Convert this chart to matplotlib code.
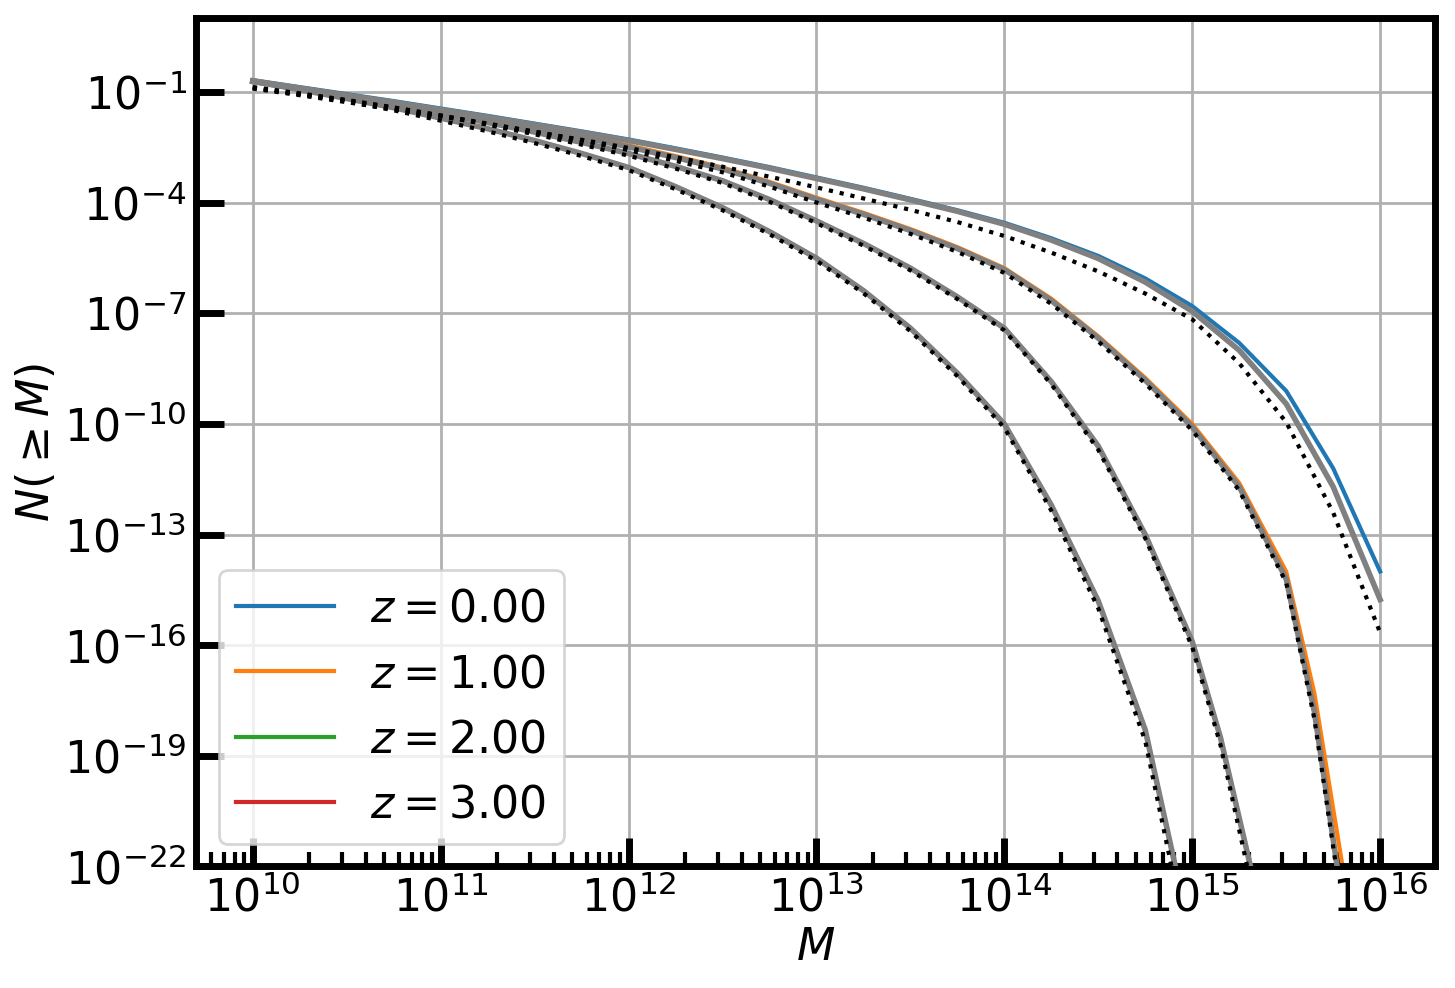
import numpy as np
import matplotlib.pyplot as plt

logm0 = [10, 10.25, 10.5, 10.75, 11, 11.25, 11.5, 11.75, 12, 12.25, 12.5, 12.75, 13,
         13.25, 13.5, 13.75, 14, 14.25, 14.5, 14.75, 15, 15.25, 15.5, 15.75, 16]
z0_col = [-0.67, -0.86, -1.05, -1.24, -1.44, -1.64, -1.85, -2.06, -2.28, -2.52, -2.77, -3.03, -3.31,
          -3.59, -3.89, -4.20, -4.54, -4.96, -5.44, -6.05, -6.80, -7.80, -9.10, -11.2, -14.0]
z0_grey = [-0.70, -0.89, -1.08, -1.27, -1.47, -1.67, -1.88, -2.09, -2.31, -2.55, -2.80, -3.06, -3.34,
           -3.62, -3.92, -4.23, -4.58, -5.01, -5.51, -6.15, -6.94, -8.00, -9.45, -11.7, -14.76]
z0_dot = [-0.90, -1.08, -1.27, -1.46, -1.66, -1.86, -2.07, -2.29, -2.51, -2.76, -3.02, -3.29, -3.58,
          -3.88, -4.19, -4.52, -4.90, -5.35, -5.86, -6.46, -7.16, -8.35, -9.95, -12.4, -15.66]

logm1 = [10, 10.25, 10.5, 10.75, 11, 11.25, 11.5, 11.75, 12, 12.25, 12.5, 12.75, 13,
         13.25, 13.5, 13.75, 14, 14.25, 14.5, 14.75, 15, 15.25, 15.5, 15.65, 15.8]
z1_col = [-0.68, -0.88, -1.08, -1.28, -1.50, -1.72, -1.94, -2.18, -2.44, -2.73, -3.04, -3.43, -3.86,
          -4.27, -4.71, -5.20, -5.77, -6.60, -7.62, -8.75, -10.0, -11.6, -14.0, -17.3, -22.0]
z1_grey = [-0.71, -0.91, -1.11, -1.32, -1.54, -1.76, -1.98, -2.22, -2.48, -2.77, -3.08, -3.47, -3.90,
           -4.31, -4.75, -5.24, -5.81, -6.65, -7.67, -8.81, -10.08, -11.7, -14.2, -17.8, -23.0]
z1_dot = [-0.88, -1.04, -1.22, -1.42, -1.63, -1.85, -2.07, -2.31, -2.57, -2.86, -3.17, -3.56, -3.99,
          -4.40, -4.84, -5.33, -5.90, -6.74, -7.76, -8.90, -10.17, -11.8, -14.3, -18.0, -23.2]

logm2 = [10, 10.25, 10.5, 10.75, 11, 11.25, 11.5, 11.75, 12, 12.25, 12.5, 12.75, 13,
         13.25, 13.5, 13.75, 14, 14.25, 14.5, 14.75, 15, 15.15, 15.31]
z2_col = [-0.69, -0.90, -1.11, -1.33, -1.57, -1.82, -2.08, -2.36, -2.66, -3.01, -3.40, -3.91, -4.49,
          -5.10, -5.77, -6.55, -7.40, -8.85, -10.6, -13.0, -15.9, -18.5, -22.0]
z2_dot = [-0.86, -1.03, -1.21, -1.41, -1.63, -1.88, -2.14, -2.42, -2.72, -3.07, -3.46, -3.97, -4.55,
          -5.16, -5.83, -6.61, -7.46, -8.92, -10.7, -13.1, -16.05, -18.7, -22.4]

logm3 = [10, 10.25, 10.5, 10.75, 11, 11.25, 11.5, 11.75, 12, 12.25, 12.5, 12.75, 13,
         13.25, 13.5, 13.75, 14, 14.25, 14.5, 14.75, 14.91]
z3_col = [-0.70, -0.93, -1.17, -1.42, -1.70, -1.99, -2.31, -2.66, -3.04, -3.56, -4.13, -4.78, -5.50,
          -6.38, -7.40, -8.62, -10.0, -12.2, -14.8, -18.3, -22.0]
z3_dot = [-0.87, -1.06, -1.25, -1.49, -1.77, -2.06, -2.38, -2.73, -3.11, -3.63, -4.20, -4.85, -5.57,
          -6.45, -7.48, -8.70, -10.1, -12.35, -15.0, -18.6, -22.5]

labels = ['$z = 0.00$', '$z = 1.00$', '$z = 2.00$', '$z = 3.00$']
colors = ['#1f77b4', '#ff7f0e', '#2ca02c', '#d62728']

plt.rcParams['mathtext.fontset'] = 'dejavusans'

fig = plt.figure(figsize=(7.275, 4.94), dpi=200)
ax = fig.add_axes([0.135, 0.123, 0.851, 0.859])

p = lambda a: 10.0 ** np.array(a)

curves = [(logm0, z0_col, z0_grey, z0_dot),
          (logm1, z1_col, z1_grey, z1_dot),
          (logm2, z2_col, z2_col, z2_dot),
          (logm3, z3_col, z3_col, z3_dot)]

for (lm, col, grey, dot), lab, c in zip(curves, labels, colors):
    ax.plot(p(lm), p(col), color=c, lw=1.5, label=lab, zorder=2)
for lm, col, grey, dot in curves:
    ax.plot(p(lm), p(grey), color='grey', lw=2, zorder=3)
    ax.plot(p(lm), p(dot), color='black', lw=1.5, ls=':', zorder=4)

ax.set_xscale('log')
ax.set_yscale('log')
ax.set_xlim(10 ** 9.70, 10 ** 16.29)
ax.set_ylim(1e-22, 10 ** 1.02)
ax.set_yticks([10.0 ** k for k in range(-22, 0, 3)])
ax.set_xlabel('$M$', fontsize=16, labelpad=2)
ax.set_ylabel(r'$N(\geq M)$', fontsize=16, labelpad=2)
ax.grid(True, which='major', color='#b0b0b0', lw=1)
ax.tick_params(which='major', direction='in', length=10, width=2.5, labelsize=16)
ax.tick_params(which='minor', direction='in', length=5, width=1.5)
ax.tick_params(axis='y', which='minor', left=False)
for s in ax.spines.values():
    s.set_linewidth(2.5)
ax.legend(loc='lower left', fontsize=16, handlelength=2.2)

fig.savefig('out.png', dpi=200)
